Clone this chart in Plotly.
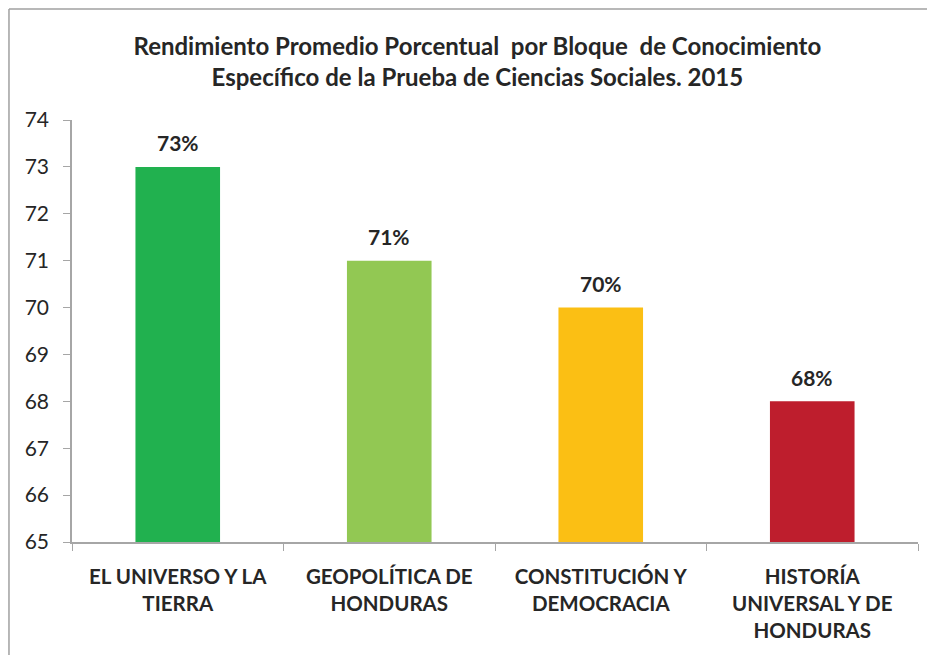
"""
Rendimiento promedio porcentual por bloque de conocimiento - Ciencias Sociales 2015
"""

import plotly.graph_objects as go

CATEGORIAS = [
    "EL UNIVERSO Y LA<br>TIERRA",
    "GEOPOLÍTICA DE<br>HONDURAS",
    "CONSTITUCIÓN Y<br>DEMOCRACIA",
    "HISTORÍA<br>UNIVERSAL Y DE<br>HONDURAS",
]
VALORES = [73, 71, 70, 68]
COLORES = ["#21B14F", "#92C853", "#FBBF14", "#BE1E2D"]
TICKS_Y = [65, 66, 67, 68, 69, 70, 71, 72, 73, 74]
BASE = 65

FUENTE = "Lato, 'Open Sans', sans-serif"
TEXTO = "#262626"
EJE = "#A6A6A6"

fig = go.Figure()

# las barras parten del borde inferior del eje (65)
fig.add_trace(
    go.Bar(
        x=CATEGORIAS,
        y=[v - BASE for v in VALORES],
        base=BASE,
        marker=dict(color=COLORES, line=dict(width=0)),
        hoverinfo="skip",
    )
)

for cat, val in zip(CATEGORIAS, VALORES):
    fig.add_annotation(
        x=cat,
        y=val,
        text=f"<b>{val}%</b>",
        showarrow=False,
        yshift=24,
        font=dict(family=FUENTE, size=21, color=TEXTO),
    )

fig.update_layout(
    width=935,
    height=655,
    margin=dict(l=64, r=25, t=112, b=121),
    bargap=0.6,
    showlegend=False,
    plot_bgcolor="white",
    paper_bgcolor="white",
    title=dict(
        text="<b>Rendimiento Promedio Porcentual  por Bloque  de Conocimiento<br>"
             "Específico de la Prueba de Ciencias Sociales. 2015</b>",
        x=0.502,
        xanchor="center",
        y=0.929,
        yanchor="middle",
        font=dict(family=FUENTE, size=24, color=TEXTO),
    ),
    xaxis=dict(
        showline=True,
        linecolor=EJE,
        linewidth=1.5,
        ticks="outside",
        tickson="boundaries",
        ticklen=7,
        tickcolor=EJE,
        ticklabelstandoff=16,
        tickfont=dict(family=FUENTE, size=20.5, color=TEXTO, weight="bold"),
        showgrid=False,
    ),
    yaxis=dict(
        range=[65, 74],
        tickvals=TICKS_Y,
        showline=True,
        linecolor=EJE,
        linewidth=1.5,
        ticks="outside",
        ticklen=7,
        tickcolor=EJE,
        ticklabelstandoff=10,
        tickfont=dict(family=FUENTE, size=21, color=TEXTO),
        showgrid=False,
        zeroline=False,
    ),
    shapes=[
        dict(type="line", xref="paper", yref="paper",
             x0=-0.0745, x1=1.02, y0=1.263, y1=1.263,
             line=dict(color="#A0A0A0", width=1.5)),
        dict(type="line", xref="paper", yref="paper",
             x0=-0.0745, x1=-0.0745, y0=1.263, y1=-0.3,
             line=dict(color="#A0A0A0", width=1.5)),
    ],
)

fig.write_html("out.html")
